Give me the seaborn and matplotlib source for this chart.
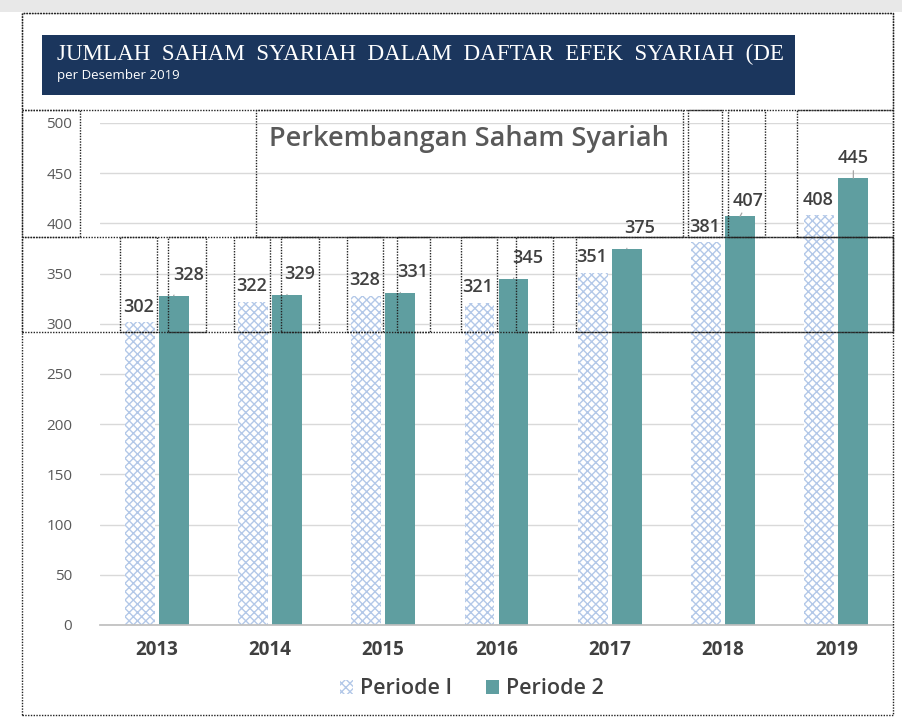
import matplotlib
matplotlib.use("Agg")
import matplotlib.pyplot as plt
import seaborn as sns
import pandas as pd
from matplotlib.patches import Rectangle, Patch

years = ["2013", "2014", "2015", "2016", "2017", "2018", "2019"]
periode_1 = [302, 322, 328, 321, 351, 381, 408]
periode_2 = [328, 329, 331, 345, 375, 407, 445]
series_names = ["Periode I", "Periode 2"]
yticks = [0, 50, 100, 150, 200, 250, 300, 350, 400, 450, 500]

df = pd.DataFrame({
    "Tahun": years * 2,
    "Jumlah": periode_1 + periode_2,
    "Periode": [series_names[0]] * len(years) + [series_names[1]] * len(years),
})

sns.set_theme(style="white")
plt.rcParams["font.family"] = ["Open Sans", "DejaVu Sans"]

W, H = 902, 722
fig = plt.figure(figsize=(W / 100, H / 100), dpi=100)

def fx(x):
    return x / W

def fy(y):
    return 1 - y / H

teal = "#5f9ea0"
hatch_blue = "#b3c8e8"
txt = "#404040"

ax = fig.add_axes([fx(100), fy(625), (893 - 100) / W, (625 - 123) / H])
sns.barplot(data=df, x="Tahun", y="Jumlah", hue="Periode", order=years,
            hue_order=series_names, palette=[hatch_blue, teal],
            width=0.6, gap=0.12, ax=ax, legend=False, saturation=1)

for p in ax.containers[0]:
    p.set_facecolor("white")
    p.set_edgecolor(hatch_blue)
    p.set_hatch("xxxx")
    p.set_linewidth(0)
for p in ax.containers[1]:
    p.set_edgecolor("none")

ax.set_ylim(0, 500)
ax.set_xlim(-0.5, 6.5)
ax.set_yticks(yticks)
ax.yaxis.grid(True, color="#d9d9d9", linewidth=1)
ax.set_axisbelow(True)
for s in ["top", "right", "left"]:
    ax.spines[s].set_visible(False)
ax.spines["bottom"].set_color("#bfbfbf")
ax.set_xlabel("")
ax.set_ylabel("")
ax.tick_params(axis="y", length=0, pad=20, labelsize=11, labelcolor="#595959")
ax.tick_params(axis="x", length=0, pad=11, labelsize=13.5, labelcolor=txt)
for lab in ax.get_xticklabels():
    lab.set_fontweight("bold")

# data labels
p2_offsets = [(14, 20), (12, 20), (12, 20), (14, 20), (12, 20), (8, 15), (0, 19)]
for i, (p, v) in enumerate(zip(ax.containers[0], periode_1)):
    cx = p.get_x() + p.get_width() / 2
    ax.annotate(str(v), (cx, v), xytext=(-1, 11), textcoords="offset points",
                ha="center", va="center", fontsize=13, fontweight="semibold", color=txt)
for i, (p, v) in enumerate(zip(ax.containers[1], periode_2)):
    cx = p.get_x() + p.get_width() / 2
    dx, dy = p2_offsets[i]
    ax.annotate(str(v), (cx, v), xytext=(dx * 0.75, dy * 0.75), textcoords="offset points",
                ha="center", va="center", fontsize=13, fontweight="semibold", color=txt,
                arrowprops=dict(arrowstyle="-", color="#a6a6a6", lw=0.9,
                                shrinkA=7, shrinkB=0))

# chart title
fig.text(fx(469), fy(139), "Perkembangan Saham Syariah", ha="center", va="center",
         fontsize=19.5, fontweight="semibold", color="#595959")

# legend
handles = [Patch(facecolor="white", edgecolor=hatch_blue, hatch="xxxx", linewidth=0),
           Patch(facecolor=teal, edgecolor="none")]
fig.legend(handles, series_names, loc="center", bbox_to_anchor=(fx(472), fy(689)),
           ncol=2, frameon=False, handlelength=0.6, handleheight=0.6,
           columnspacing=1.6, handletextpad=0.3, labelcolor=txt,
           prop={"weight": "semibold", "size": 15.5})

# banner
banner = Rectangle((fx(42), fy(95)), (795 - 42) / W, (95 - 35) / H,
                   transform=fig.transFigure, facecolor="#1b365d", edgecolor="none")
fig.patches.append(banner)
fig.text(fx(57), fy(54), "JUMLAH  SAHAM  SYARIAH  DALAM  DAFTAR  EFEK  SYARIAH  (DE",
         ha="left", va="center", fontsize=16.6, color="white",
         family=["Liberation Serif", "DejaVu Serif"])
fig.text(fx(57), fy(75), "per Desember 2019", ha="left", va="center",
         fontsize=9.5, color="white")

# top ruler
fig.patches.append(Rectangle((0, fy(12)), 1, 12 / H, transform=fig.transFigure,
                             facecolor="#e8e8e8", edgecolor="none"))

# dotted layout frames of the screenshot
def box(x0, y0, x1, y1):
    fig.patches.append(Rectangle((fx(x0), fy(y1)), (x1 - x0) / W, (y1 - y0) / H,
                                 transform=fig.transFigure, fill=False,
                                 edgecolor="#222222", linestyle=(0, (1, 1)), linewidth=1))

box(22, 13, 893, 715)
box(22, 13, 893, 110)
box(22, 110, 80, 237)
box(22, 237, 893, 332)
box(256, 110, 683, 237)
box(688, 110, 722, 237)
box(728, 110, 765, 237)
box(797, 110, 893, 237)
for x0, x1 in [(120, 157), (168, 206), (234, 270), (281, 319), (347, 383),
               (397, 430), (461, 497), (516, 553), (576, 893)]:
    box(x0, 237, x1, 332)

fig.savefig("out.png", dpi=100)
